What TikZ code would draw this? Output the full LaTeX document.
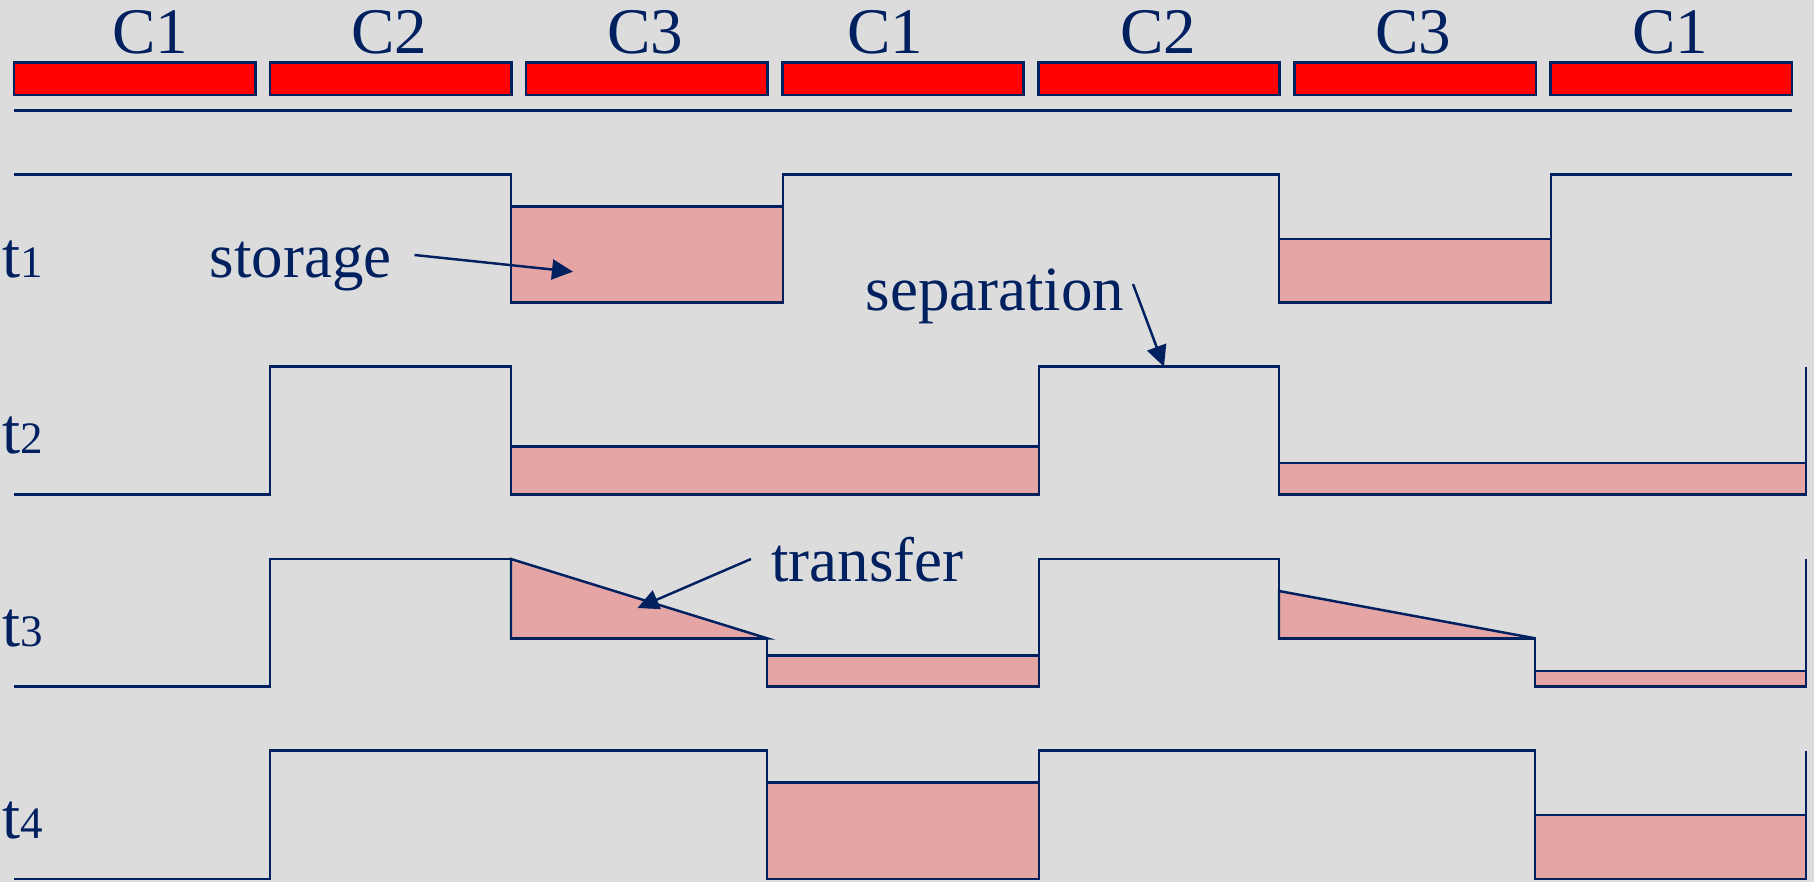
\documentclass[tikz,border=0pt]{standalone}
\usepackage{fontspec}
\setmainfont{Liberation Serif}
\usetikzlibrary{arrows.meta}
\definecolor{navy}{RGB}{0,32,96}
\definecolor{pinkfill}{RGB}{229,165,165}
\definecolor{bg}{RGB}{220,220,220}
\definecolor{barred}{RGB}{255,0,0}
\newcommand{\bigf}{\fontsize{18.5}{20}\selectfont}
\newcommand{\notef}{\fontsize{17.9}{20}\selectfont}
\newcommand{\digf}{\fontsize{12.8}{14}\selectfont}
\tikzset{
  wave/.style={draw=navy, line width=0.7pt, line join=miter},
  stor/.style={fill=pinkfill, draw=navy, line width=0.7pt},
  barbox/.style={fill=barred, draw=navy, line width=0.7pt},
  lbl/.style={text=navy, font=\bigf, inner sep=0pt},
  note/.style={text=navy, font=\notef, inner sep=0pt},
  arr/.style={draw=navy, line width=0.7pt, -{Triangle[length=0.21cm,width=0.2cm]}}
}
\begin{document}
\begin{tikzpicture}[x=0.01cm,y=-0.01cm]
\fill[bg] (0,0) rectangle (1814,882);
\useasboundingbox (0,0) rectangle (1814,882);
% top bars
\foreach \i in {0,...,6}{
  \draw[barbox] ({14+256.1*\i},62.3) rectangle ({14+256.1*\i+241.3},95);
}
\node[lbl, anchor=base] (c1a) at (150,53.3) {C1};
\node[lbl, anchor=base] (c2a) at (389,53.3) {C2};
\node[lbl, anchor=base] (c3a) at (645,53.3) {C3};
\node[lbl, anchor=base] (c1b) at (885.5,53.3) {C1};
\node[lbl, anchor=base] (c2b) at (1158,53.3) {C2};
\node[lbl, anchor=base] (c3b) at (1413,53.3) {C3};
\node[lbl, anchor=base] (c1c) at (1670,53.3) {C1};
\draw[wave] (14,110.7) -- (1792,110.7);
% row labels
\node[lbl, anchor=base west] (t1) at (2,277.3) {t{\digf 1}};
\node[lbl, anchor=base west] (t2) at (2,454) {t{\digf 2}};
\node[lbl, anchor=base west] (t3) at (2,646.7) {t{\digf 3}};
\node[lbl, anchor=base west] (t4) at (2,838.3) {t{\digf 4}};
% t1
\draw[stor] (511,206.7) rectangle (783,302.7);
\draw[stor] (1279,239) rectangle (1551,302.7);
\draw[wave] (14,174.5) -- (511,174.5) -- (511,302.7) -- (783,302.7) -- (783,174.5) -- (1279,174.5) -- (1279,302.7) -- (1551,302.7) -- (1551,174.5) -- (1792,174.5);
% t2
\draw[stor] (511,446.7) rectangle (1039,494.7);
\draw[stor] (1279,463) rectangle (1806,494.7);
\draw[wave] (14,494.7) -- (270,494.7) -- (270,366.7) -- (511,366.7) -- (511,494.7) -- (1039,494.7) -- (1039,366.7) -- (1279,366.7) -- (1279,494.7) -- (1806,494.7) -- (1806,366.7);
% t3
\draw[stor] (511,559) -- (767,638.3) -- (511,638.3) -- cycle;
\draw[stor] (1279,591) -- (1535,638.3) -- (1279,638.3) -- cycle;
\draw[stor] (767,655.5) rectangle (1039,686.7);
\draw[stor] (1535,671) rectangle (1806,686.7);
\draw[wave] (14,686.7) -- (270,686.7) -- (270,559) -- (511,559) -- (511,638.3) -- (767,638.3) -- (767,686.7) -- (1039,686.7) -- (1039,559) -- (1279,559) -- (1279,638.3) -- (1535,638.3) -- (1535,686.7) -- (1806,686.7) -- (1806,559);
% t4
\draw[stor] (767,782.7) rectangle (1039,879);
\draw[stor] (1535,815) rectangle (1806,879);
\draw[wave] (14,879) -- (270,879) -- (270,750.7) -- (767,750.7) -- (767,879) -- (1039,879) -- (1039,750.7) -- (1535,750.7) -- (1535,879) -- (1806,879) -- (1806,750.7);
% annotations
\node[note, anchor=base west] (storage) at (209,277.3) {storage};
\node[note, anchor=base west] (separation) at (865,310.7) {separation};
\node[note, anchor=base west] (transfer) at (770.5,581.7) {transfer};
\coordinate (sA) at (414.5,255);
\coordinate (sB) at (573,271.7);
\coordinate (pA) at (1133,284);
\coordinate (pB) at (1164,366.7);
\coordinate (tA) at (751,559);
\coordinate (tB) at (637.5,608);
\draw[arr] (sA) -- (sB);
\draw[arr] (pA) -- (pB);
\draw[arr] (tA) -- (tB);
\end{tikzpicture}
\end{document}
